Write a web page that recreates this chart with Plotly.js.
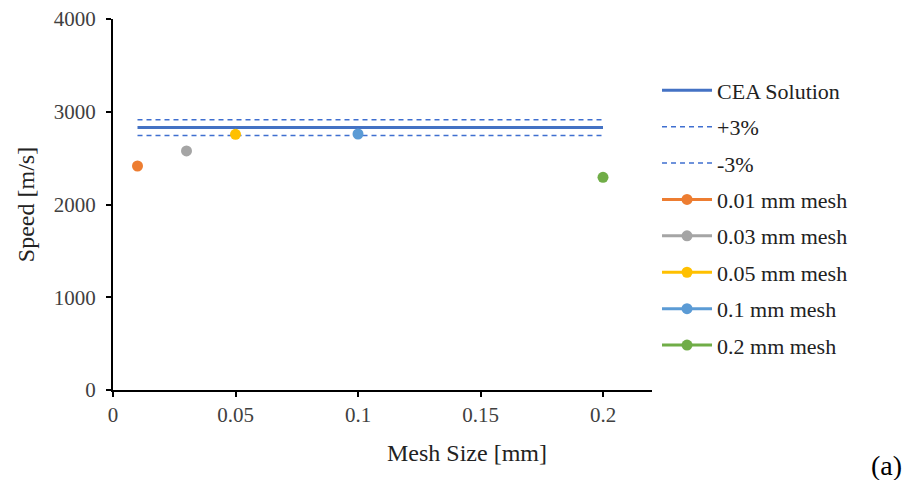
<!DOCTYPE html>
<html><head><meta charset="utf-8">
<script src="https://cdn.plot.ly/plotly-3.0.1.min.js"></script>
<style>body{margin:0;background:#fff}#c{width:910px;height:480px}</style>
</head><body><div id="c"></div>
<script>
const refX = [0.01, 0.2];
const ceaY = [2830, 2830];
const plusY = [2915, 2915];
const minusY = [2745, 2745];
const meshNames = ['0.01 mm mesh','0.03 mm mesh','0.05 mm mesh','0.1 mm mesh','0.2 mm mesh'];
const meshX = [0.01, 0.03, 0.05, 0.1, 0.2];
const meshY = [2415, 2577, 2757, 2760, 2293];
const meshColors = ['#ED7D31','#A5A5A5','#FFC000','#5B9BD5','#70AD47'];
const xTicks = [0, 0.05, 0.1, 0.15, 0.2];
const xTickText = ['0','0.05','0.1','0.15','0.2'];
const yTicks = [0, 1000, 2000, 3000, 4000];

const font = 'Liberation Serif, Times New Roman, serif';
const traces = [
  {x: refX, y: ceaY, name: 'CEA Solution', mode: 'lines', line: {color: '#4472C4', width: 3}, legendgroup: 'a'},
  {x: refX, y: plusY, name: '+3%', mode: 'lines', line: {color: '#3F6FD0', width: 1.5, dash: '5px,4px'}, legendgroup: 'b'},
  {x: refX, y: minusY, name: '-3%', mode: 'lines', line: {color: '#3F6FD0', width: 1.5, dash: '5px,4px'}, legendgroup: 'c'}
];
meshNames.forEach((n, i) => {
  traces.push({x: [meshX[i]], y: [meshY[i]], name: n, mode: 'lines+markers',
    marker: {color: meshColors[i], size: 11}, line: {color: meshColors[i], width: 3}, legendgroup: 'm' + i});
});

const layout = {
  width: 910, height: 480,
  margin: {l: 113, r: 258, t: 19, b: 90},
  paper_bgcolor: '#fff', plot_bgcolor: '#fff',
  font: {family: font, size: 21, color: '#222'},
  showlegend: true,
  legend: {x: 1.0093, xanchor: 'left', y: 0.864, yanchor: 'top', font: {family: font, size: 22, color: '#222'},
    bgcolor: 'rgba(0,0,0,0)', tracegroupgap: 4.8, itemwidth: 50},
  xaxis: {range: [0, 0.22], tickvals: xTicks, ticktext: xTickText, showgrid: false, zeroline: false,
    showline: true, linecolor: '#000', linewidth: 2, ticks: 'outside', ticklen: 5, tickwidth: 2, tickcolor: '#000',
    tickfont: {family: font, size: 21, color: '#404040'}},
  yaxis: {range: [0, 4000], tickvals: yTicks, showgrid: false, zeroline: false,
    showline: true, linecolor: '#000', linewidth: 2, ticks: 'outside', ticklen: 5, tickwidth: 2, tickcolor: '#000',
    tickfont: {family: font, size: 21, color: '#404040'}, ticklabelstandoff: 6,
    title: {text: 'Speed [m/s]', font: {family: font, size: 24, color: '#222'}, standoff: 12}},
  annotations: [
    {text: 'Mesh Size [mm]', xref: 'paper', yref: 'paper', x: (467 - 113) / 539, y: (390 - 453) / 371,
     xanchor: 'center', yanchor: 'middle', showarrow: false, font: {family: font, size: 24, color: '#222'}},
    {text: '(a)', xref: 'paper', yref: 'paper', x: (886 - 113) / 539, y: (390 - 465) / 371,
     xanchor: 'center', yanchor: 'middle', showarrow: false, font: {family: font, size: 28, color: '#000'}}
  ]
};
Plotly.newPlot('c', traces, layout, {displayModeBar: false, staticPlot: true});
</script></body></html>
